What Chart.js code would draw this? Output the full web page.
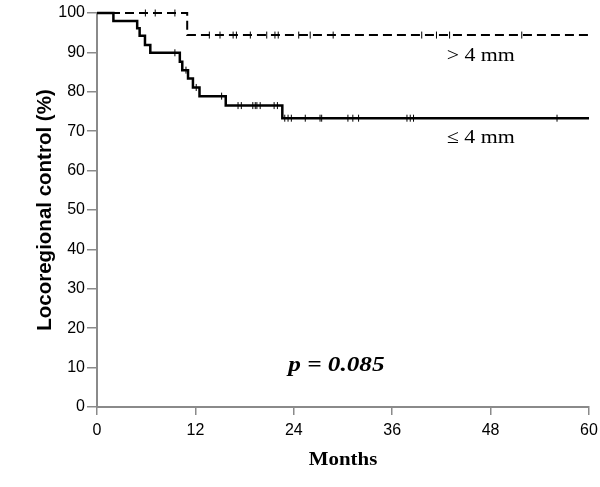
<!DOCTYPE html>
<html>
<head>
<meta charset="utf-8">
<script src="https://cdn.jsdelivr.net/npm/chart.js@4.4.1/dist/chart.umd.min.js"></script>
<style>
html,body{margin:0;padding:0;background:#fff;}
#wrap{width:600px;height:487px;}
</style>
</head>
<body>
<div id="wrap"><canvas id="c" width="600" height="487"></canvas></div>
<script>
// ≤ 4 mm group: step times (months) and locoregional control (%)
const smallTimes  = [0, 2.0, 4.9, 5.2, 5.85, 6.5, 10.1, 10.4, 11.1, 11.7, 12.5, 15.7, 22.6, 60];
const smallValues = [100, 98.0, 96.1, 94.2, 91.9, 89.9, 87.6, 85.5, 83.4, 81.1, 78.9, 76.5, 73.3, 73.3];
// ≤ 4 mm censored observations
const smallCensorTimes  = [9.5, 10.85, 12.1, 15.2, 17.2, 17.6, 19.0, 19.3, 19.5, 19.9, 21.6, 22.0, 22.9, 23.3, 23.7, 25.4, 27.2, 27.4, 30.6, 31.2, 31.9, 37.8, 38.2, 38.6, 56.1];
const smallCensorValues = [89.9, 85.5, 81.1, 78.9, 76.5, 76.5, 76.5, 76.5, 76.5, 76.5, 76.5, 76.5, 73.3, 73.3, 73.3, 73.3, 73.3, 73.3, 73.3, 73.3, 73.3, 73.3, 73.3, 73.3, 73.3];

// > 4 mm group
const largeTimes  = [0, 11.0, 60];
const largeValues = [100, 94.4, 94.4];
const largeCensorTimes  = [5.9, 7.1, 9.5, 13.7, 15.0, 16.6, 17.0, 18.7, 20.7, 21.7, 22.1, 24.6, 26.0, 28.8, 39.6, 41.4, 43.0, 51.8];
const largeCensorValues = [100, 100, 100, 94.4, 94.4, 94.4, 94.4, 94.4, 94.4, 94.4, 94.4, 94.4, 94.4, 94.4, 94.4, 94.4, 94.4, 94.4];

const xTicks = [0, 12, 24, 36, 48, 60];
const yTicks = [0, 10, 20, 30, 40, 50, 60, 70, 80, 90, 100];

const labels = [
  {text: '> 4 mm', x: 46.8, y: 89.1},
  {text: '\u2264 4 mm', x: 46.8, y: 68.3}
];
const pText = {text: 'p = 0.085', x: 29.2, y: 10.6};

function pts(xs, ys){ return xs.map((x,i)=>({x:x, y:ys[i]})); }

const SERIF = '"Liberation Serif","Times New Roman",serif';
const SANS = '"Liberation Sans",Arial,sans-serif';

function stretchedText(ctx, text, x, y, sx){
  ctx.save();
  ctx.translate(x, y);
  ctx.scale(sx, 1);
  ctx.fillText(text, 0, 0);
  ctx.restore();
}

const textPlugin = {
  id: 'texts',
  afterDraw(chart){
    const ctx = chart.ctx, xs = chart.scales.x, ys = chart.scales.y, ca = chart.chartArea;
    ctx.save();
    ctx.fillStyle = '#000';
    ctx.textAlign = 'center';
    ctx.textBaseline = 'middle';
    ctx.font = '19px ' + SERIF;
    labels.forEach(l => stretchedText(ctx, l.text, xs.getPixelForValue(l.x), ys.getPixelForValue(l.y), 1.15));
    ctx.font = 'italic bold 21px ' + SERIF;
    stretchedText(ctx, pText.text, xs.getPixelForValue(pText.x), ys.getPixelForValue(pText.y), 1.2);
    ctx.font = 'bold 19px ' + SERIF;
    stretchedText(ctx, 'Months', (ca.left + ca.right)/2, ca.bottom + 53, 1.1);
    ctx.translate(45, (ca.top + ca.bottom)/2);
    ctx.rotate(-Math.PI/2);
    ctx.font = 'bold 20.5px ' + SANS;
    ctx.fillText('Locoregional control (%)', 0, 0);
    ctx.restore();
  }
};

new Chart(document.getElementById('c'), {
  type: 'scatter',
  data: {
    datasets: [
      {data: pts(smallTimes, smallValues), showLine: true, stepped: 'before', borderColor: '#000', borderWidth: 2.5, pointRadius: 0, clip: false},
      {data: pts(largeTimes, largeValues), showLine: true, stepped: 'before', borderColor: '#000', borderWidth: 2, borderDash: [9, 5], pointRadius: 0, clip: false},
      {data: pts(smallCensorTimes, smallCensorValues), showLine: false, pointStyle: 'line', rotation: 90, pointRadius: 3.5, borderColor: '#000', borderWidth: 1, clip: false},
      {data: pts(largeCensorTimes, largeCensorValues), showLine: false, pointStyle: 'line', rotation: 90, pointRadius: 3.5, borderColor: '#000', borderWidth: 1, clip: false}
    ]
  },
  options: {
    responsive: false,
    animation: false,
    events: [],
    layout: {padding: {top: 13, right: 11, left: 0, bottom: 0}},
    plugins: {legend: {display: false}, tooltip: {enabled: false}},
    scales: {
      x: {
        type: 'linear', min: 0, max: 60,
        afterBuildTicks: s => { s.ticks = xTicks.map(v => ({value: v})); },
        ticks: {font: {family: SANS, size: 16}, color: '#000', padding: 6, maxRotation: 0, autoSkip: false},
        grid: {drawOnChartArea: false, drawTicks: true, tickLength: 8, color: '#8a8a8a', lineWidth: 1.5},
        border: {color: '#8a8a8a', width: 2},
        afterFit: s => { s.height = 80; s.paddingRight = 0; s.paddingLeft = 0; }
      },
      y: {
        type: 'linear', min: 0, max: 100,
        afterBuildTicks: s => { s.ticks = yTicks.map(v => ({value: v})); },
        ticks: {font: {family: SANS, size: 16}, color: '#000', padding: 2, autoSkip: false},
        grid: {drawOnChartArea: false, drawTicks: true, tickLength: 10, color: '#8a8a8a', lineWidth: 1.5},
        border: {color: '#8a8a8a', width: 2},
        afterFit: s => { s.width = 97; s.paddingTop = 0; s.paddingBottom = 0; }
      }
    }
  },
  plugins: [textPlugin]
});
</script>
</body>
</html>
